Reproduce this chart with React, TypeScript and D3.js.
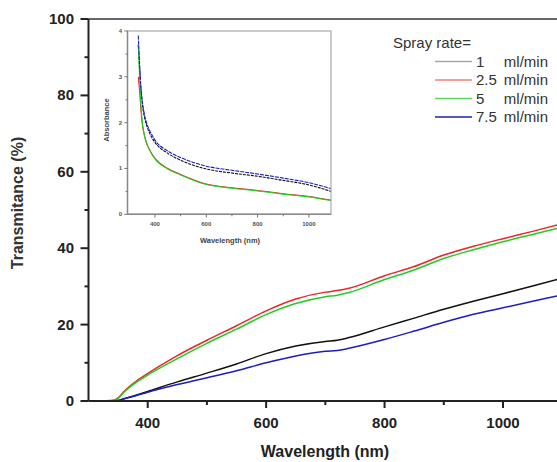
import React from "react";
import * as d3 from "d3";

// Main chart: transmittance (%) vs wavelength (nm)
const wavelengths = [300, 320, 340, 350, 360, 380, 400, 450, 500, 550, 600, 650, 700, 720, 740, 800, 850, 900, 950, 1000, 1050, 1100];
const trans1 = [0, 0, 0, 0.1, 0.6, 1.5, 2.5, 5.0, 7.3, 9.7, 12.4, 14.4, 15.6, 15.9, 16.6, 19.4, 21.7, 24.0, 26.1, 28.1, 30.1, 32.2];
const trans25 = [0, 0, 0.1, 0.8, 2.5, 5.1, 7.2, 11.9, 15.9, 19.7, 23.6, 26.7, 28.5, 28.9, 29.5, 32.8, 35.2, 38.2, 40.5, 42.5, 44.4, 46.4];
const trans5 = [0, 0, 0.1, 0.7, 2.3, 4.8, 6.8, 11.1, 15.1, 18.8, 22.6, 25.5, 27.3, 27.7, 28.4, 31.8, 34.3, 37.3, 39.6, 41.7, 43.6, 45.5];
const trans75 = [0, 0, 0, 0.1, 0.6, 1.4, 2.3, 4.3, 6.1, 7.9, 10.0, 11.8, 13.0, 13.2, 13.8, 16.1, 18.3, 20.6, 22.7, 24.4, 26.1, 27.8];

// Inset: absorbance vs wavelength
const insetWavelengths = [335, 340, 345, 350, 360, 370, 380, 400, 450, 500, 600, 700, 800, 900, 1000, 1086];
const abs1 = [3.7, 3.2, 2.75, 2.45, 2.1, 1.9, 1.76, 1.57, 1.33, 1.18, 0.99, 0.9, 0.83, 0.74, 0.64, 0.5];
const abs25 = [3.0, 2.7, 2.3, 2.0, 1.7, 1.52, 1.4, 1.22, 1.0, 0.87, 0.66, 0.58, 0.52, 0.45, 0.39, 0.31];
const abs5 = [3.7, 3.0, 2.4, 2.05, 1.69, 1.51, 1.39, 1.21, 0.99, 0.86, 0.65, 0.57, 0.51, 0.44, 0.38, 0.3];
const abs75 = [3.9, 3.3, 2.8, 2.5, 2.15, 1.95, 1.82, 1.62, 1.38, 1.24, 1.05, 0.96, 0.88, 0.79, 0.69, 0.56];

const seriesNames = ["1", "2.5", "5", "7.5"];
const seriesColors = ["#111111", "#e8262b", "#22cc22", "#1c1cc4"];
const legendLineColors = ["#a8a8a8", "#f08080", "#5ad85a", "#2020b0"];

const xTicks = [400, 600, 800, 1000];
const xMinor = [500, 700, 900];
const yTicks = [0, 20, 40, 60, 80, 100];
const yMinor = [10, 30, 50, 70, 90];
const insetXTicks = [400, 600, 800, 1000];
const insetXMinor = [500, 700, 900];
const insetYTicks = [0, 1, 2, 3, 4];
const insetYMinor = [0.5, 1.5, 2.5, 3.5];

export default function App() {
  const W = 557, H = 462;
  const x = d3.scaleLinear().domain([300, 1100]).range([88.5, 562.2]);
  const y = d3.scaleLinear().domain([0, 100]).range([401, 19]);

  const ix = d3.scaleLinear().domain([293, 1086]).range([127.5, 331]);
  const iy = d3.scaleLinear().domain([0, 4]).range([214.3, 31]);

  const mainData = [trans1, trans25, trans5, trans75];
  const insetData = [abs1, abs25, abs5, abs75];

  const line = d3.line<number>().x((_, i) => x(wavelengths[i])).y((v) => y(v)).curve(d3.curveMonotoneX);
  const iline = d3.line<number>().x((_, i) => ix(insetWavelengths[i])).y((v) => iy(v)).curve(d3.curveMonotoneX);

  const font = "'Liberation Sans', Arial, sans-serif";
  const axisColor = "#222";

  return (
    <div style={{ position: "fixed", left: 0, top: 0 }}>
      <svg width={W} height={H} style={{ display: "block", background: "#fff" }} fontFamily={font}>
        <defs>
          <clipPath id="mainClip">
            <rect x={88.5} y={19} width={480} height={382} />
          </clipPath>
          <clipPath id="insetClip">
            <rect x={127.5} y={31} width={203.5} height={183.3} />
          </clipPath>
        </defs>

        {/* main curves */}
        <g clipPath="url(#mainClip)">
          {mainData.map((d, k) => (
            <path key={k} d={line(d) || ""} fill="none" stroke={seriesColors[k]} strokeWidth={1.5} />
          ))}
        </g>

        {/* main axes */}
        <line x1={88.5} x2={88.5} y1={19} y2={401} stroke={axisColor} strokeWidth={2} />
        <line x1={88.5} x2={W} y1={401} y2={401} stroke={axisColor} strokeWidth={2} />
        <line x1={88.5} x2={W} y1={19} y2={19} stroke="#333" strokeWidth={1.6} />
        {xTicks.map((t) => (
          <g key={t}>
            <line x1={x(t)} x2={x(t)} y1={401} y2={408} stroke={axisColor} strokeWidth={2} />
            <text x={x(t)} y={427.5} textAnchor="middle" fontSize={15} fontWeight="bold" fill="#222">{t}</text>
          </g>
        ))}
        {xMinor.map((t) => (
          <line key={t} x1={x(t)} x2={x(t)} y1={401} y2={405} stroke={axisColor} strokeWidth={2} />
        ))}
        {yTicks.map((t) => (
          <g key={t}>
            <line x1={80.5} x2={88.5} y1={y(t)} y2={y(t)} stroke={axisColor} strokeWidth={2} />
            <text x={74} y={y(t) + 5} textAnchor="end" fontSize={15} fontWeight="bold" fill="#222">{t}</text>
          </g>
        ))}
        {yMinor.map((t) => (
          <line key={t} x1={84.5} x2={88.5} y1={y(t)} y2={y(t)} stroke={axisColor} strokeWidth={2} />
        ))}
        <text x={325} y={457} textAnchor="middle" fontSize={16} fontWeight="bold" fill="#222">Wavelength (nm)</text>
        <text transform="translate(23,203) rotate(-90)" textAnchor="middle" fontSize={16} fontWeight="bold" fill="#333">Transmitance (%)</text>

        {/* inset */}
        <g clipPath="url(#insetClip)">
          {insetData.map((d, k) => (
            <path key={k} d={iline(d) || ""} fill="none" stroke={seriesColors[k]} strokeWidth={1.1} strokeDasharray={k === 0 ? "3,1" : k === 3 ? "4,1" : undefined} />
          ))}
        </g>
        <rect x={127.5} y={31} width={203.5} height={183.3} fill="none" stroke="#aaa" strokeWidth={1.2} />
        <line x1={127.5} x2={127.5} y1={31} y2={214.3} stroke="#888" strokeWidth={1.4} />
        <line x1={127.5} x2={331} y1={214.3} y2={214.3} stroke="#888" strokeWidth={1.4} />
        {insetXTicks.map((t) => (
          <g key={t}>
            <line x1={ix(t)} x2={ix(t)} y1={214.3} y2={217.5} stroke="#777" strokeWidth={1} />
            <text x={ix(t)} y={226} textAnchor="middle" fontSize={6} fontWeight="bold" fill="#555">{t}</text>
          </g>
        ))}
        {insetXMinor.map((t) => (
          <line key={t} x1={ix(t)} x2={ix(t)} y1={214.3} y2={216.3} stroke="#777" strokeWidth={1} />
        ))}
        {insetYTicks.map((t) => (
          <g key={t}>
            <line x1={124.3} x2={127.5} y1={iy(t)} y2={iy(t)} stroke="#777" strokeWidth={1} />
            <text x={122} y={iy(t) + 2} textAnchor="end" fontSize={6} fontWeight="bold" fill="#555">{t}</text>
          </g>
        ))}
        {insetYMinor.map((t) => (
          <line key={t} x1={125.5} x2={127.5} y1={iy(t)} y2={iy(t)} stroke="#777" strokeWidth={1} />
        ))}
        <text x={230} y={243} textAnchor="middle" fontSize={7.5} fontWeight="bold" fill="#444">Wavelength (nm)</text>
        <text transform="translate(109,120) rotate(-90)" textAnchor="middle" fontSize={7.5} fontWeight="bold" fill="#444">Absorbance</text>

        {/* legend */}
        <text x={393} y={47.5} fontSize={15} fill="#333">Spray rate=</text>
        {seriesNames.map((n, k) => {
          const ly = 61.5 + k * 18.5;
          return (
            <g key={n}>
              <line x1={435} x2={472} y1={ly} y2={ly} stroke={legendLineColors[k]} strokeWidth={1.4} />
              <text x={476} y={ly + 5.2} fontSize={15} fill="#333">{n}</text>
              <text x={548} y={ly + 5.2} textAnchor="end" fontSize={15} fill="#333">ml/min</text>
            </g>
          );
        })}
      </svg>
    </div>
  );
}
